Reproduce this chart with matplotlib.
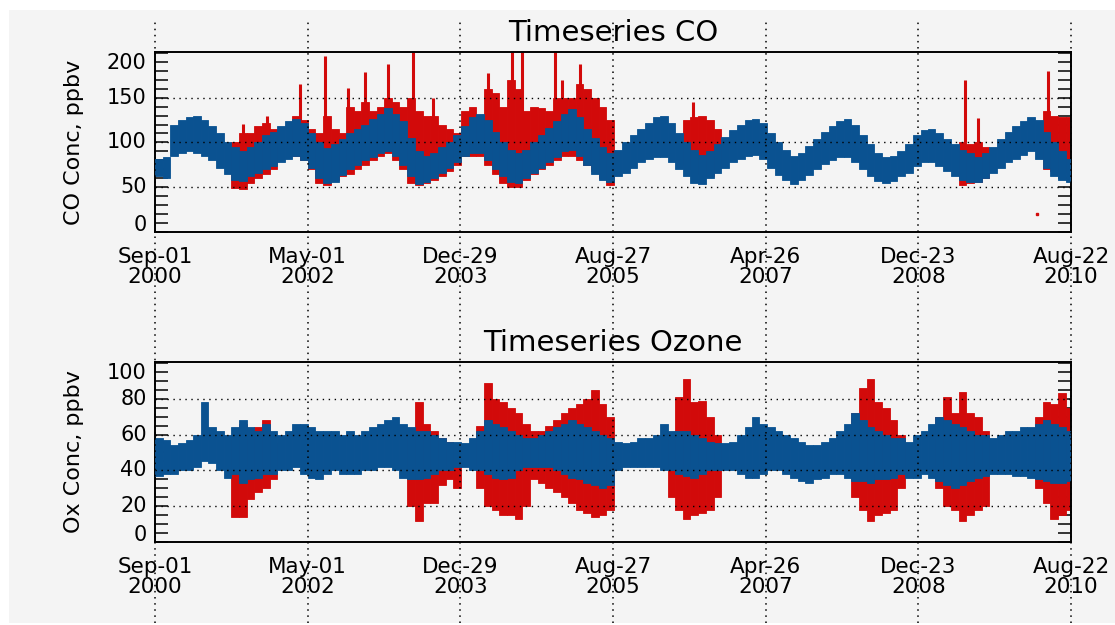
import numpy as np
import pandas as pd
import matplotlib
matplotlib.use("Agg")
import matplotlib.pyplot as plt
import matplotlib.dates as mdates
from matplotlib.patches import Rectangle

# ---------------- data (monthly envelopes, Sep 2000 .. Aug 2010) ----------------
co_blue_lo = [62, 60, 85, 88, 90, 88, 85, 80, 72, 65, 58, 57, 62, 66, 70, 74, 78, 82, 85, 80,
              72, 60, 55, 56, 64, 70, 75, 80, 84, 88, 90, 85, 75, 62, 54, 56, 60, 66, 72, 78,
              85, 88, 88, 80, 70, 62, 56, 55, 60, 66, 72, 78, 84, 90, 92, 85, 75, 65, 58, 56,
              62, 66, 72, 78, 82, 84, 84, 78, 70, 62, 55, 54, 60, 66, 72, 78, 82, 85, 86, 82,
              72, 64, 58, 54, 58, 64, 70, 76, 80, 84, 84, 78, 70, 62, 57, 55, 57, 62, 66, 74,
              78, 78, 74, 68, 62, 58, 56, 56, 60, 66, 72, 78, 82, 86, 90, 82, 72, 62, 58, 56]
co_blue_hi = [82, 84, 120, 125, 128, 130, 125, 118, 110, 100, 95, 90, 95, 100, 108, 112, 118, 124, 126, 122,
              110, 100, 94, 98, 104, 110, 115, 120, 126, 132, 138, 132, 124, 105, 90, 85, 88, 95, 100, 108,
              118, 128, 132, 125, 112, 100, 92, 88, 92, 100, 108, 116, 124, 132, 137, 128, 115, 105, 95, 88,
              92, 100, 108, 115, 122, 128, 130, 122, 110, 100, 92, 86, 90, 98, 106, 114, 120, 125, 126, 122,
              110, 100, 92, 85, 88, 96, 104, 112, 118, 124, 126, 120, 108, 98, 88, 84, 85, 90, 98, 108,
              114, 115, 110, 104, 98, 92, 88, 84, 88, 95, 104, 112, 118, 124, 128, 125, 112, 100, 90, 82]

nan = np.nan
co_red_lo = [nan] * 10 + [49, 48, 55, 60, 65, 70] + [nan] * 2 + \
            [85, 80, 70, 55, 52, 58, 62, 65, 70, 75, 80, 85, 88, 80, 70, 55, 52, 55, 58, 62, 68,
             75, 85, 85, 85, 75, 65, 55, 50, 50, 58, 65, 70, 75, 80, 85, 85, 80, 75, 68, 60, 52] + \
            [nan] * 9 + [75, 70, 65, 62, 72] + [nan] * 31 + [52, 55, 56, 60] + [nan] * 7 + \
            [70, 68, 67, 67]
co_red_hi = [nan] * 10 + [100, 110, 110, 118, 122, 115] + [nan] * 2 + \
            [130, 125, 115, 110, 130, 115, 110, 140, 135, 145, 135, 140, 150, 145, 140, 150, 135, 130, 130, 120, 115,
             110, 135, 140, 130, 160, 155, 140, 170, 160, 135, 140, 138, 135, 150, 150, 150, 165, 160, 150, 140, 125] + \
            [nan] * 9 + [125, 128, 130, 125, 115] + [nan] * 31 + [100, 98, 100, 95] + [nan] * 7 + \
            [135, 130, 128, 128]
# narrow red CO spikes (date, peak value)
co_spike_dates = ["2001-08-17", "2001-11-20", "2002-03-31", "2002-07-09", "2002-10-08",
                  "2002-12-15", "2003-03-16", "2003-06-24", "2003-09-10", "2004-04-17",
                  "2004-07-21", "2004-08-30", "2005-01-08", "2005-02-05", "2005-04-18",
                  "2006-07-11", "2009-06-27", "2009-08-17", "2010-05-23"]
co_spike_values = [121, 130, 165, 197, 161, 179, 188, 201, 150, 178,
                   201, 201, 201, 170, 188, 145, 170, 127, 180]
co_red_dot_date = "2010-04-10"
co_red_dot_value = 20

o3_blue_lo = [37, 38, 38, 40, 40, 42, 45, 44, 40, 36, 38, 33, 35, 36, 38, 38, 40, 40, 42, 38,
              36, 35, 38, 40, 38, 38, 38, 40, 40, 42, 42, 40, 36, 35, 35, 36, 38, 40, 40, 42,
              42, 40, 40, 38, 36, 35, 36, 40, 42, 42, 42, 42, 40, 38, 36, 35, 33, 32, 30, 32,
              40, 42, 42, 42, 42, 42, 40, 40, 38, 37, 36, 38, 40, 40, 40, 40, 38, 36, 36, 38,
              40, 40, 38, 36, 34, 33, 35, 36, 38, 38, 36, 34, 34, 33, 35, 35, 36, 38, 36, 36,
              38, 36, 34, 32, 30, 32, 34, 36, 37, 38, 38, 38, 37, 37, 36, 35, 34, 33, 33, 34]
o3_blue_hi = [58, 57, 54, 55, 57, 60, 78, 64, 62, 60, 64, 68, 64, 62, 66, 62, 60, 62, 66, 66,
              64, 62, 62, 62, 60, 62, 60, 62, 64, 66, 68, 70, 66, 64, 62, 62, 60, 58, 56, 56,
              55, 58, 62, 68, 66, 64, 62, 60, 58, 58, 60, 62, 64, 66, 68, 66, 64, 62, 60, 58,
              56, 55, 56, 58, 58, 60, 66, 62, 62, 62, 60, 58, 56, 55, 55, 56, 60, 64, 70, 66,
              64, 62, 60, 58, 56, 54, 54, 56, 58, 62, 66, 72, 68, 64, 62, 60, 58, 58, 56, 60,
              62, 66, 70, 68, 66, 64, 62, 60, 60, 58, 60, 62, 62, 64, 64, 66, 68, 66, 64, 62]

o3_red_lo = [nan] * 10 + [14, 14, 24, 28, 30, 35] + [nan] * 17 + \
            [20, 12, 22, 22, 32, 35, 30] + [nan] * 2 + \
            [30, 20, 18, 15, 15, 13, 20, 35, 33, 30, 28, 25, 22, 18, 16, 14, 15, 18] + [nan] * 7 + \
            [25, 18, 13, 15, 16, 18, 25] + [nan] * 17 + [25, 18, 12, 15, 16, 18, 30] + [nan] * 4 + \
            [30, 20, 18, 12, 15, 18, 20] + [nan] * 6 + [30, 22, 13, 15, 18]
o3_red_hi = [nan] * 10 + [60, 66, 62, 64, 68, 55] + [nan] * 17 + \
            [60, 78, 66, 62, 58, 56, 55] + [nan] * 2 + \
            [65, 89, 80, 78, 75, 72, 66, 62, 62, 65, 68, 72, 75, 77, 80, 85, 77, 70] + [nan] * 7 + \
            [60, 81, 91, 78, 79, 70, 60] + [nan] * 17 + [72, 86, 91, 78, 75, 68, 60] + [nan] * 4 + \
            [70, 81, 72, 84, 72, 70, 62] + [nan] * 6 + [70, 78, 77, 83, 75]

xtick_dates = ["2000-09-01", "2002-05-01", "2003-12-29", "2005-08-27",
               "2007-04-26", "2008-12-23", "2010-08-22"]
xtick_labels = ["Sep-01\n2000", "May-01\n2002", "Dec-29\n2003", "Aug-27\n2005",
                "Apr-26\n2007", "Dec-23\n2008", "Aug-22\n2010"]
co_ytick_values = [0, 50, 100, 150, 200]
o3_ytick_values = [0, 20, 40, 60, 80, 100]

# ---------------- style ----------------
BLUE = "#0a5291"
RED = "#d20a0a"
BG = "#f4f4f4"
plt.rcParams["font.family"] = ["DejaVu Sans"]

W, H = 1115, 625
fig = plt.figure(figsize=(W / 100, H / 100), dpi=100)
fig.patch.set_facecolor("white")
fig.patches.append(Rectangle((9 / W, 2 / H), 1, (H - 12) / H, transform=fig.transFigure,
                             facecolor=BG, edgecolor="none", zorder=-10))

edges = pd.date_range("2000-09-01", periods=121, freq="MS")
xe = mdates.date2num(edges)
xl = xe[:-1]
wd = np.diff(xe)
xmin = mdates.date2num(pd.Timestamp(xtick_dates[0]))
xmax = mdates.date2num(pd.Timestamp(xtick_dates[-1]))
xt = mdates.date2num(pd.to_datetime(xtick_dates))

L, R = 155 / W, 1071 / W


def panel(top_px, bot_px, blue_lo, blue_hi, red_lo, red_hi, ymax, minor, yvals, title, ylabel):
    ax = fig.add_axes([L, 1 - bot_px / H, R - L, (bot_px - top_px) / H])
    ax.set_facecolor(BG)
    blo, bhi = np.array(blue_lo, float), np.array(blue_hi, float)
    rlo, rhi = np.array(red_lo, float), np.array(red_hi, float)
    ax.bar(xl, rhi - rlo, bottom=rlo, width=wd, align="edge", color=RED,
           edgecolor=RED, linewidth=0.6, zorder=2)
    ax.bar(xl, bhi - blo, bottom=blo, width=wd, align="edge", color=BLUE,
           edgecolor=BLUE, linewidth=0.6, zorder=3)
    ax.set_xlim(xmin, xmax)
    ax.set_ylim(0, ymax)
    for v in yvals[1:-1]:
        ax.axhline(v, color="black", lw=1.0, ls=(0, (1, 3.3)), zorder=5)
    ax.set_yticks(np.arange(0, ymax + 0.1, minor))
    ax.set_yticklabels([])
    ax.tick_params(axis="y", direction="in", length=9.5, width=1.1, left=True, right=True,
                   color="black")
    ax.set_xticks(xt)
    ax.set_xticklabels(xtick_labels, fontsize=15.5, linespacing=1.0)
    ax.tick_params(axis="x", length=0, pad=11)
    for s in ax.spines.values():
        s.set_linewidth(1.4)
    for v in yvals:
        va = "baseline" if v == 0 else ("top" if v == yvals[-1] else "center")
        off = 1 if v == 0 else 0
        ax.annotate(str(v), xy=(0, v), xycoords=("axes fraction", "data"),
                    xytext=(-6, off), textcoords="offset points",
                    ha="right", va=va, fontsize=15)
    ax.set_title(title, fontsize=21, pad=8)
    ax.set_ylabel(ylabel, fontsize=16)
    ax.yaxis.set_label_coords(-0.078, 0.5)
    return ax


ax1 = panel(52, 232, co_blue_lo, co_blue_hi, co_red_lo, co_red_hi, 201, 10,
            co_ytick_values, "Timeseries CO", "CO Conc, ppbv")
sx = mdates.date2num(pd.to_datetime(co_spike_dates))
ax1.vlines(sx, 100, co_spike_values, color=RED, lw=2.2, zorder=2)
ax1.plot([mdates.date2num(pd.Timestamp(co_red_dot_date))], [co_red_dot_value], "s",
         ms=2, color=RED, zorder=4)
ax2 = panel(362, 542, o3_blue_lo, o3_blue_hi, o3_red_lo, o3_red_hi, 100.5, 5,
            o3_ytick_values, "Timeseries Ozone", "Ox Conc, ppbv")

# full-height dotted vertical lines at the date ticks
ov = fig.add_axes([L, 0, R - L, 1], zorder=10)
ov.set_xlim(xmin, xmax)
ov.set_ylim(0, 1)
ov.axis("off")
for x in xt:
    ov.axvline(x, ymin=2 / H, ymax=1 - 18 / H, color="black", lw=1.1,
               ls=(0, (1, 3)), clip_on=False)

fig.savefig("out.png", dpi=100, facecolor=fig.get_facecolor())
